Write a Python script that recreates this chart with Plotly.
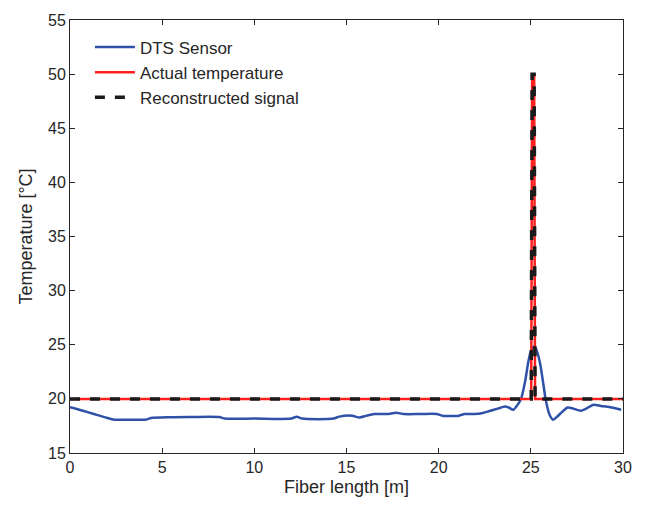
import plotly.graph_objects as go

dts_x = [0, 0.5, 1.0, 1.5, 2.0, 2.4, 3.0, 4.1, 4.4, 5.4, 6.5, 8.1, 8.4, 10, 12.0, 12.3, 12.6,
         14.3, 14.6, 15.3, 15.7, 16.1, 16.5, 17.2, 17.7, 18.1, 19.0, 19.9, 20.2, 21.1, 21.4,
         21.9, 22.4, 22.8, 23.2, 23.6, 23.8, 24.05, 24.3, 24.47, 24.7, 24.85, 25.0, 25.2,
         25.35, 25.5, 25.65, 25.8, 26.0, 26.2, 26.45, 26.7, 27.0, 27.3, 27.7, 28.0, 28.4,
         28.8, 29.3, 29.9]
dts_y = [19.23, 19.0, 18.75, 18.5, 18.25, 18.08, 18.08, 18.08, 18.23, 18.3, 18.32, 18.32,
         18.18, 18.18, 18.18, 18.36, 18.18, 18.18, 18.36, 18.45, 18.28, 18.45, 18.6, 18.6,
         18.72, 18.6, 18.6, 18.6, 18.45, 18.45, 18.6, 18.6, 18.7, 18.9, 19.1, 19.3, 19.2,
         19.0, 19.5, 20.0, 21.7, 23.3, 24.4, 24.85, 24.3, 23.3, 21.7, 20.0, 18.6, 18.08,
         18.4, 18.8, 19.2, 19.1, 18.9, 19.1, 19.45, 19.35, 19.23, 19.0]

# Actual temperature
act_x = [0, 25.02, 25.07, 25.18, 25.23, 30]
act_y = [20, 20, 50, 50, 20, 20]

# Reconstructed signal
rec_x = [0, 25.02, 25.07, 25.18, 25.23, 30]
rec_y = [20, 20, 50, 50, 20, 20]

x_ticks = [0, 5, 10, 15, 20, 25, 30]
y_ticks = [15, 20, 25, 30, 35, 40, 45, 50, 55]

fig = go.Figure()
fig.add_trace(go.Scatter(x=dts_x, y=dts_y, mode="lines", name="DTS Sensor",
                         line=dict(color="#2f52a8", width=2.5, shape="spline", smoothing=0.7)))
fig.add_trace(go.Scatter(x=act_x, y=act_y, mode="lines", name="Actual temperature",
                         line=dict(color="#ff1f1f", width=2.5)))
fig.add_trace(go.Scatter(x=rec_x, y=rec_y, mode="lines", name="Reconstructed signal",
                         line=dict(color="#1a1a1a", width=3.5, dash="10px,10px")))

axcol = "#262626"
common = dict(showgrid=False, zeroline=False, showline=True, mirror="ticks", linecolor=axcol,
              linewidth=1, ticks="inside", ticklen=5, tickcolor=axcol,
              tickfont=dict(size=16, color=axcol, family="Liberation Sans, Arial"))
fig.update_xaxes(range=[0, 30], tickvals=x_ticks,
                 title=dict(text="Fiber length [m]", font=dict(size=18, color=axcol), standoff=5),
                 **common)
fig.update_yaxes(range=[15, 55], tickvals=y_ticks,
                 title=dict(text="Temperature [°C]", font=dict(size=18, color=axcol), standoff=10),
                 **common)

fig.update_layout(
    width=646, height=506,
    margin=dict(l=70, r=23, t=14, b=52),
    paper_bgcolor="white", plot_bgcolor="white",
    font=dict(family="Liberation Sans, Arial", color=axcol),
    legend=dict(x=0.036, y=0.978, xanchor="left", yanchor="top", bgcolor="rgba(0,0,0,0)",
                font=dict(size=17, color=axcol), tracegroupgap=0, itemwidth=40),
    showlegend=True,
)

fig.write_html("out.html", config={"displayModeBar": False},
               post_script="document.body.style.margin='0';")
